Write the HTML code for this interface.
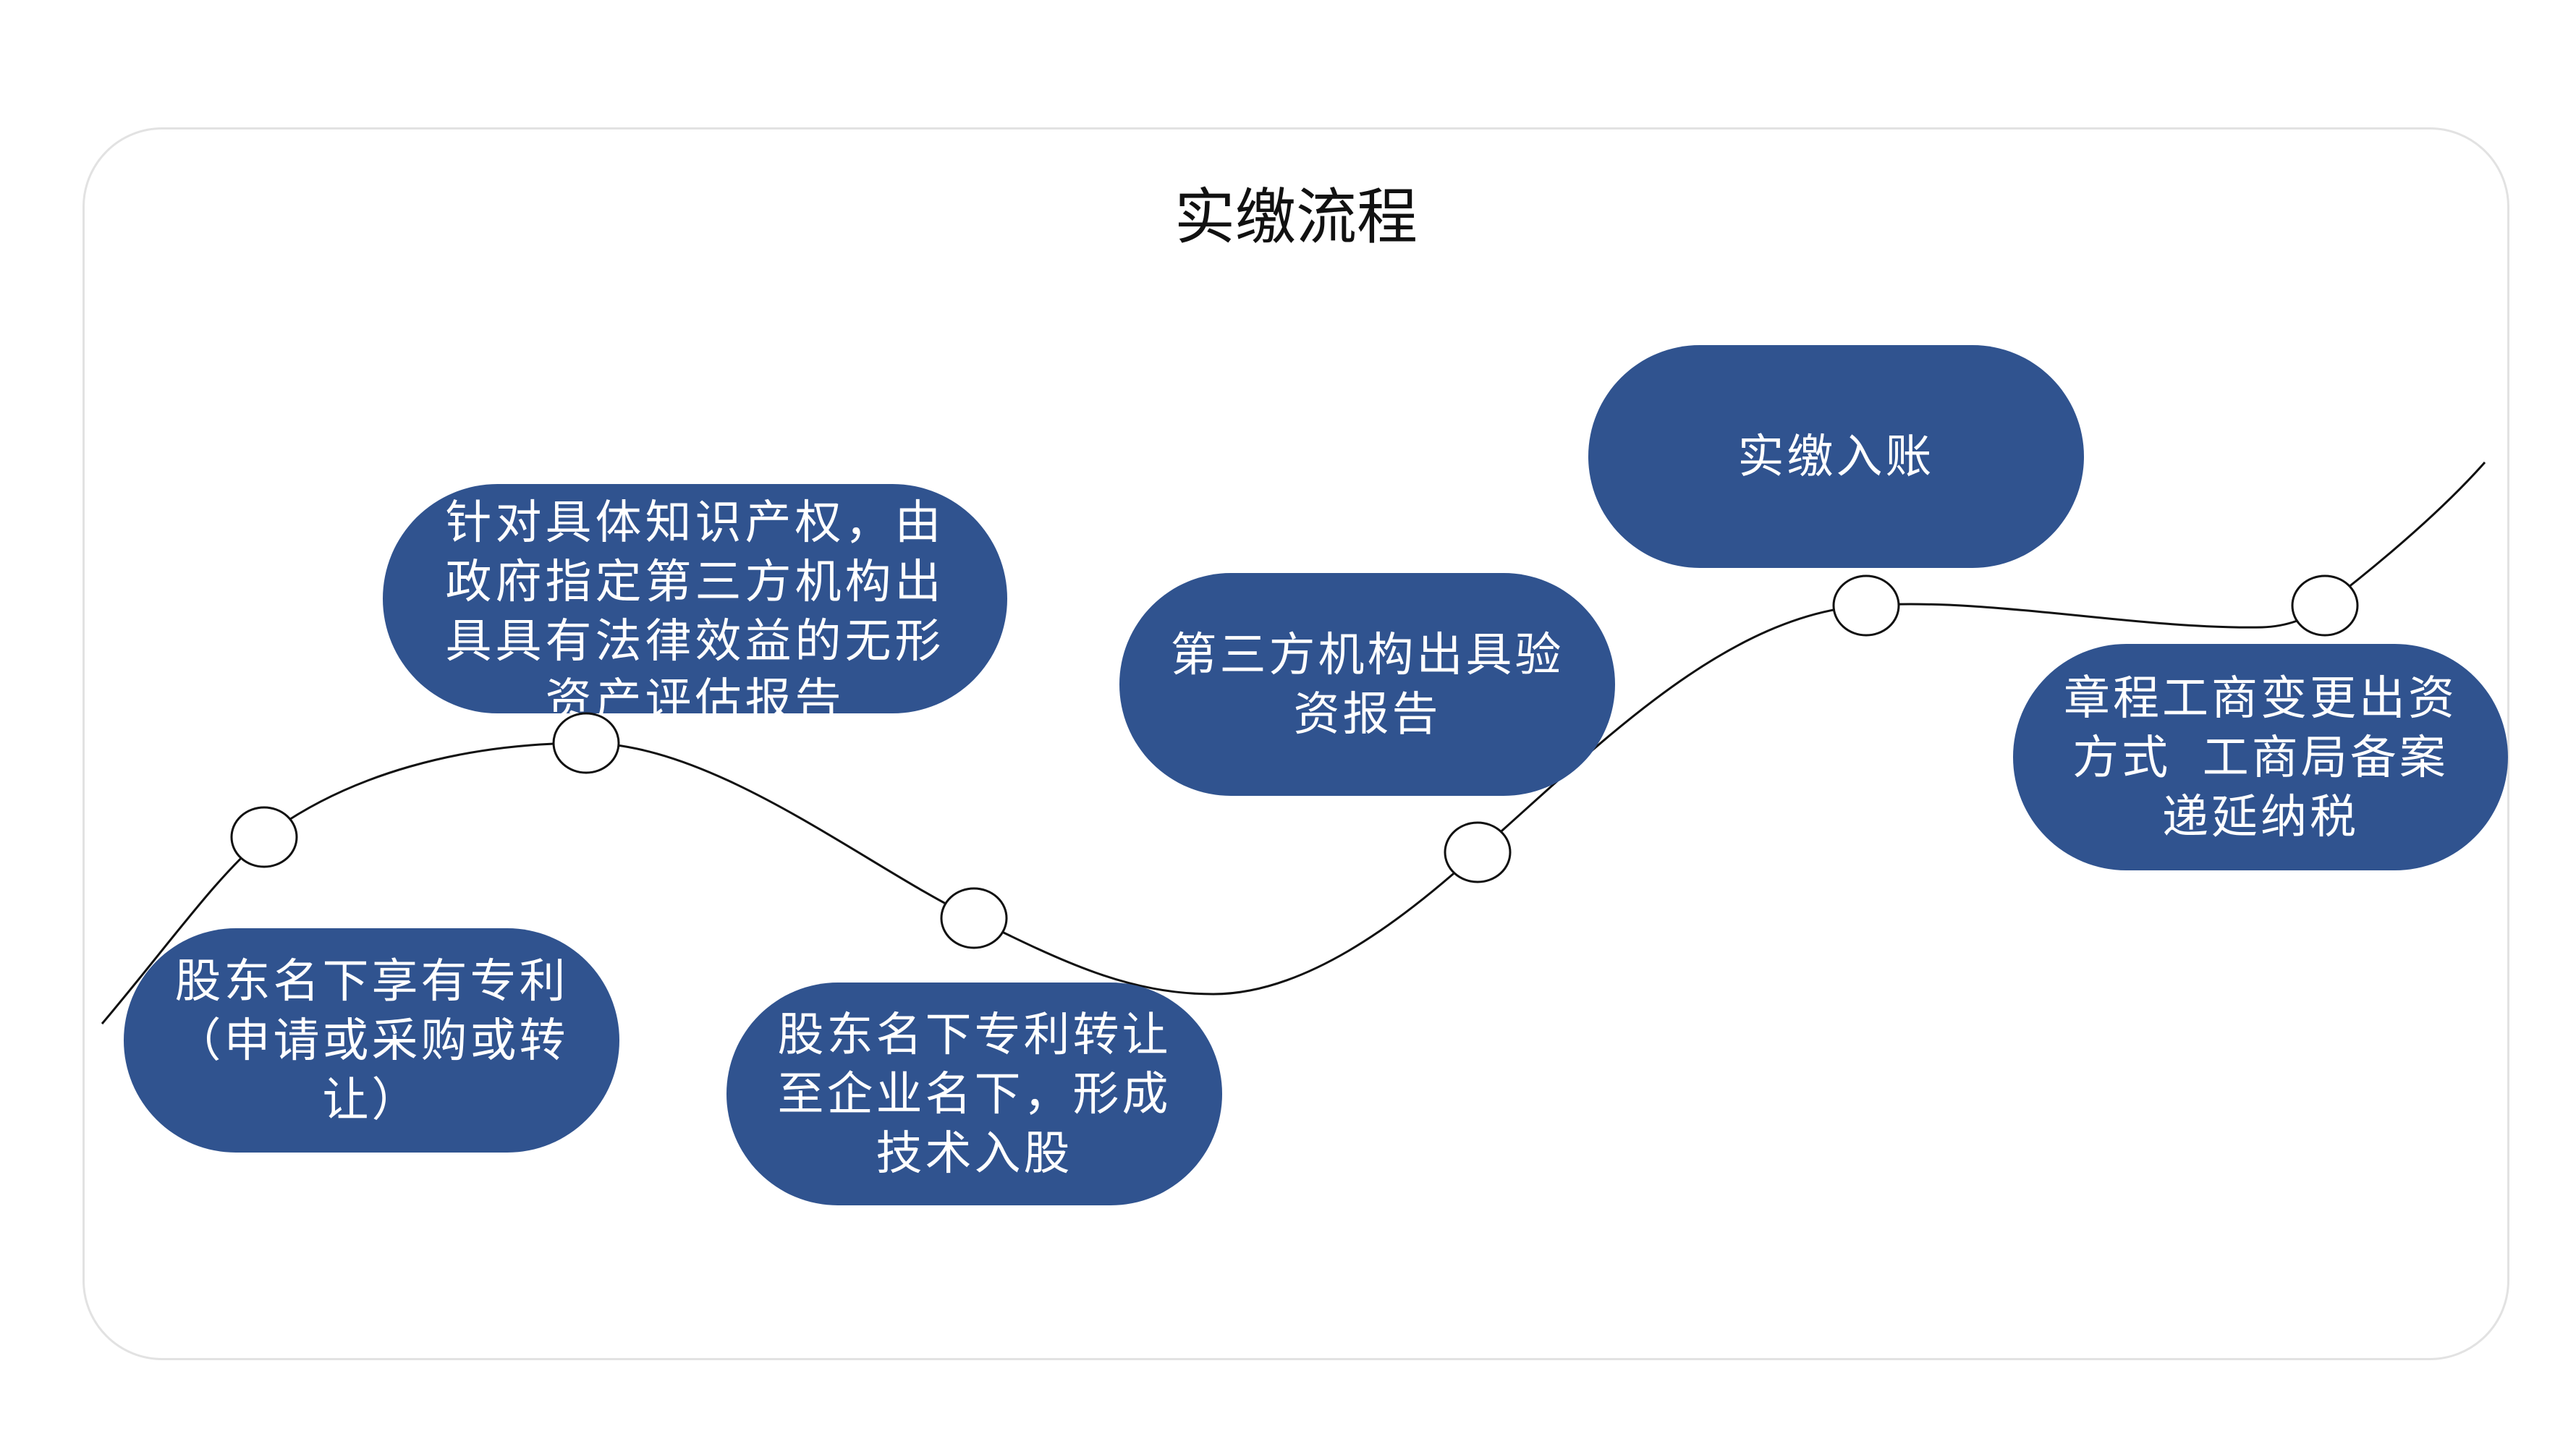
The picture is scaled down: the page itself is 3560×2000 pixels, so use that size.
<!DOCTYPE html>
<html><head><meta charset="utf-8"><style>
html,body{margin:0;padding:0;width:3560px;height:2000px;background:#fff;overflow:hidden}
body{position:relative;font-family:"Liberation Sans","Noto Sans CJK SC",sans-serif}
.card{position:absolute;left:114px;top:176px;width:3354px;height:1704px;border:3px solid #e2e2e2;border-radius:110px;box-sizing:border-box}
.title{position:absolute;left:1500px;width:582px;top:245px;text-align:center;font-size:84px;color:#111;line-height:110px}
.pill{position:absolute;background:#30538f;border-radius:160px;color:#fff;display:flex;flex-direction:column;align-items:center;justify-content:center;text-align:center;font-size:64px;line-height:82px;overflow:hidden;letter-spacing:4px}
svg{position:absolute;left:0;top:0}
</style></head><body>
<div class="card"></div>
<div class="title">实缴流程</div>
<svg width="3560" height="2000">
<path d="M141,1415 C230,1310 300,1210 365,1157 C480,1070 640,1027 810,1027 C990,1027 1200,1200 1346,1269 C1470,1330 1560,1374 1677,1374 C1800,1374 1930,1280 2042,1178 C2200,1040 2380,850 2579,837 C2750,825 2950,870 3126,867 C3160,866 3190,855 3213,837 C3300,770 3380,700 3434,639" fill="none" stroke="#111" stroke-width="3"/>
</svg>
<div class="pill" style="left:171px;top:1283px;width:685px;height:310px">股东名下享有专利<br>（申请或采购或转<br>让）</div>
<div class="pill" style="left:529px;top:669px;width:863px;height:317px;justify-content:flex-start;padding-top:12px;box-sizing:border-box;letter-spacing:5px">针对具体知识产权，由<br>政府指定第三方机构出<br>具具有法律效益的无形<br>资产评估报告</div>
<div class="pill" style="left:1004px;top:1358px;width:685px;height:308px">股东名下专利转让<br>至企业名下，形成<br>技术入股</div>
<div class="pill" style="left:1547px;top:792px;width:685px;height:308px">第三方机构出具验<br>资报告</div>
<div class="pill" style="left:2195px;top:477px;width:685px;height:308px">实缴入账</div>
<div class="pill" style="left:2782px;top:890px;width:684px;height:313px">章程工商变更出资<br>方式&nbsp;&nbsp;工商局备案<br>递延纳税</div>
<svg width="3560" height="2000">
<g fill="#fff" stroke="#111" stroke-width="3">
<ellipse cx="365" cy="1157" rx="45" ry="41"/>
<ellipse cx="810" cy="1027" rx="45" ry="41"/>
<ellipse cx="1346" cy="1269" rx="45" ry="41"/>
<ellipse cx="2042" cy="1178" rx="45" ry="41"/>
<ellipse cx="2579" cy="837" rx="45" ry="41"/>
<ellipse cx="3213" cy="837" rx="45" ry="41"/>
</g></svg>
</body></html>
